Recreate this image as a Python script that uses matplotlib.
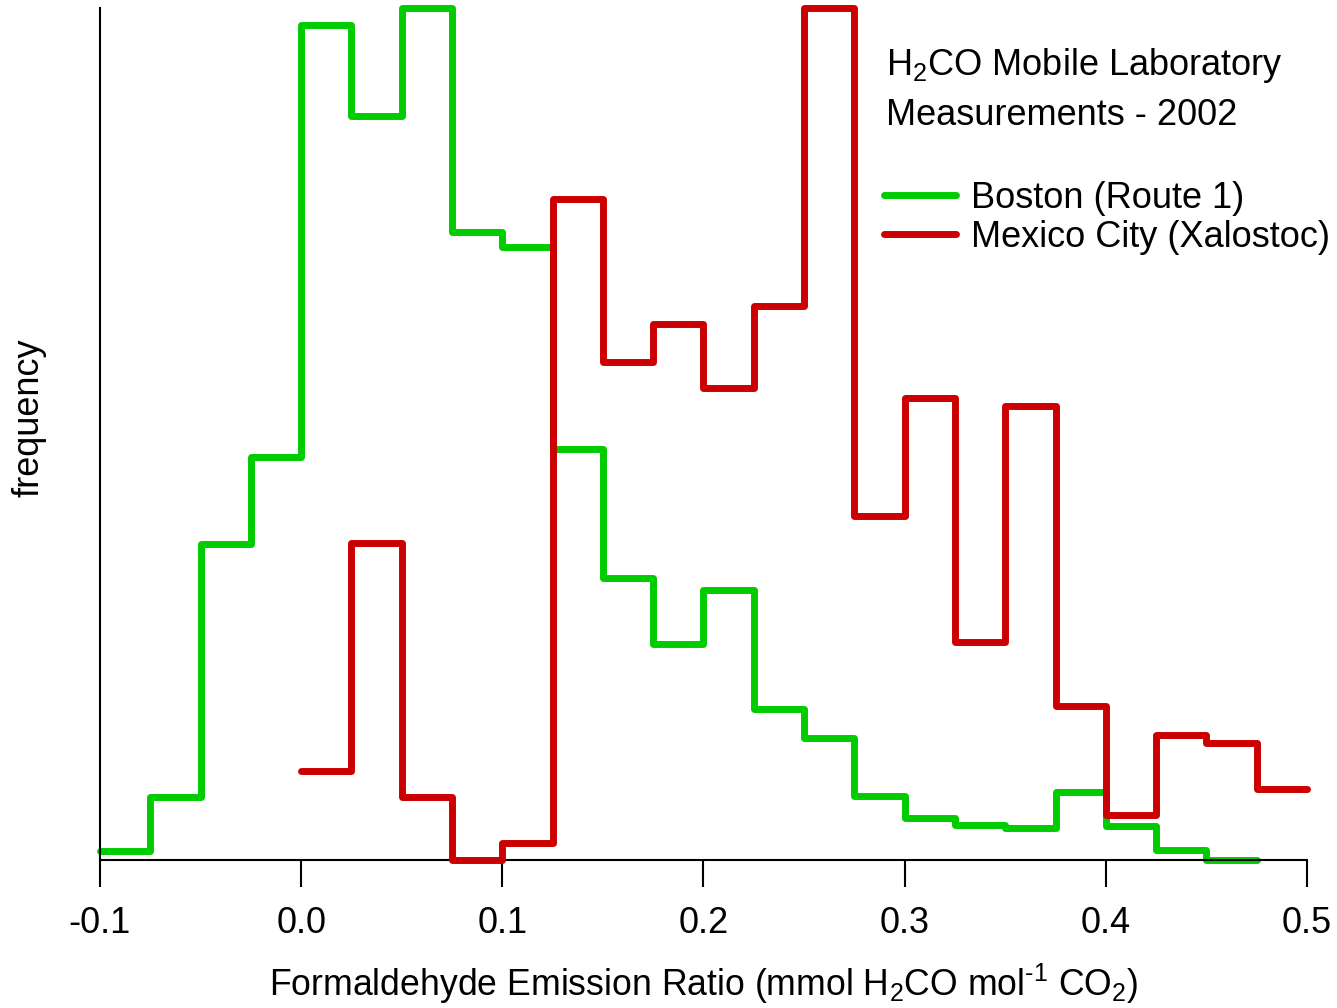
import numpy as np
import matplotlib
matplotlib.use("Agg")
import matplotlib.pyplot as plt

plt.rcParams["font.family"] = ["Liberation Sans", "DejaVu Sans"]
plt.rcParams["mathtext.fontset"] = "custom"
plt.rcParams["mathtext.rm"] = "Liberation Sans"
plt.rcParams["mathtext.it"] = "Liberation Sans:italic"
plt.rcParams["mathtext.default"] = "regular"
plt.rcParams["axes.unicode_minus"] = False

# Histogram bins: emission ratio, bin width 0.025 mmol/mol
bin_width = 0.025
boston_start = -0.1
mexico_start = 0.0

# Normalised frequencies (peak = 1)
boston_freq = [0.011, 0.075, 0.371, 0.473, 0.980, 0.873, 1.000, 0.737,
               0.720, 0.483, 0.331, 0.254, 0.317, 0.178, 0.144, 0.076,
               0.050, 0.042, 0.038, 0.080, 0.040, 0.012, 0.000]
mexico_freq = [0.105, 0.372, 0.075, 0.000, 0.021, 0.776, 0.585, 0.629,
               0.554, 0.650, 1.000, 0.404, 0.542, 0.256, 0.533, 0.181,
               0.053, 0.147, 0.138, 0.084]

labels = ["Boston (Route 1)", "Mexico City (Xalostoc)"]
xticks = [-0.1, 0.0, 0.1, 0.2, 0.3, 0.4, 0.5]
xtick_labels = ["-0.1", "0.0", "0.1", "0.2", "0.3", "0.4", "0.5"]

green = "#00CC00"
red = "#CC0000"
fs = 26

fig = plt.figure(figsize=(13.37, 10.08), dpi=100)
ax = fig.add_axes([0.07479, 0.14633, 0.90277, 0.84573])

b_edges = boston_start + bin_width * np.arange(len(boston_freq) + 1)
m_edges = mexico_start + bin_width * np.arange(len(mexico_freq) + 1)

sb = ax.stairs(boston_freq, b_edges, baseline=None, color=green,
               linewidth=5, label=labels[0], clip_on=False, zorder=2)
sm = ax.stairs(mexico_freq, m_edges, baseline=None, color=red,
               linewidth=5, label=labels[1], clip_on=False, zorder=3)
for s in (sb, sm):
    s.set_joinstyle("round")
    s.set_capstyle("round")

ax.set_xlim(-0.1, 0.5)
ax.set_ylim(0, 1)
ax.set_xticks(xticks)
ax.set_xticklabels(xtick_labels)
ax.set_yticks([])
for side in ("top", "right"):
    ax.spines[side].set_visible(False)
for side in ("left", "bottom"):
    ax.spines[side].set_linewidth(1.5)
ax.tick_params(axis="x", direction="out", length=19.5, width=1.5,
               pad=13.5, labelsize=fs)

ax.set_xlabel(r"Formaldehyde Emission Ratio (mmol H$_2$CO mol$^{\text{-}1}$ CO$_2$)",
              fontsize=25.7, labelpad=15)
fig.text(29 / 1337, 1 - 418 / 1008, "frequency", rotation=90,
         ha="center", va="center", fontsize=fs)

fig.text(886 / 1337, 1 - 75 / 1008, "H$_2$CO Mobile Laboratory",
         ha="left", va="baseline", fontsize=fs)
fig.text(886 / 1337, 1 - 125 / 1008, "Measurements - 2002",
         ha="left", va="baseline", fontsize=fs)

leg = ax.legend(loc="upper left", bbox_to_anchor=(884 / 1337, 1 - 181 / 1008),
                bbox_transform=fig.transFigure, frameon=False, fontsize=fs,
                handlelength=2.0, handletextpad=0.42, labelspacing=0.1,
                borderpad=0, borderaxespad=0)
for h in leg.get_lines():
    h.set_solid_capstyle("round")

fig.savefig("out.png", dpi=100)
